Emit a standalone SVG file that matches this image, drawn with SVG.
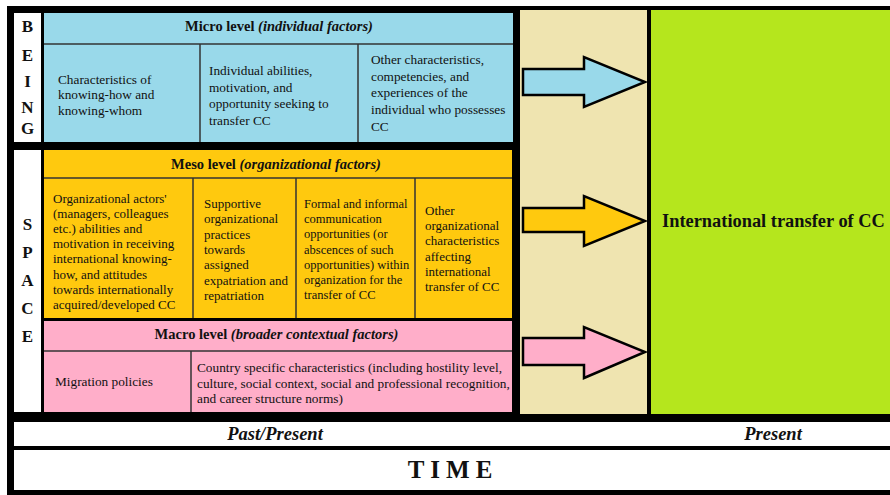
<svg xmlns="http://www.w3.org/2000/svg" width="890" height="495" viewBox="0 0 890 495">
<style>
text{font-family:"Liberation Serif","Times New Roman",serif;fill:#111}
.c{font-size:13.3px}
.m{font-size:13px}
.s{font-size:12.5px}
.h{font-size:14.5px;font-weight:bold;text-anchor:middle}
.l{font-size:17px;font-weight:bold;text-anchor:middle}
.div{stroke:#333;stroke-width:1.5}
.arr{stroke:#000;stroke-width:2.5;stroke-linejoin:miter}
</style>
<rect x="0" y="0" width="890" height="495" fill="#fff"/>
<rect x="7" y="6" width="883" height="489" fill="#000"/>

<g id="being">
<rect x="14" y="13" width="27" height="129" fill="#fff"/>
<text class="l" x="27.5" y="32">B</text>
<text class="l" x="27.5" y="61">E</text>
<text class="l" x="27.5" y="87">I</text>
<text class="l" x="27.5" y="113">N</text>
<text class="l" x="27.5" y="134">G</text>
</g>

<g id="space">
<rect x="14" y="150" width="27" height="262" fill="#fff"/>
<text class="l" x="27.5" y="230">S</text>
<text class="l" x="27.5" y="258">P</text>
<text class="l" x="27.5" y="286">A</text>
<text class="l" x="27.5" y="314">C</text>
<text class="l" x="27.5" y="342">E</text>
</g>

<g id="micro">
<rect x="44" y="13" width="469" height="129" fill="#99d9ea"/>
<line class="div" x1="44" y1="44" x2="513" y2="44"/>
<line class="div" x1="200" y1="44" x2="200" y2="142"/>
<line class="div" x1="358" y1="44" x2="358" y2="142"/>
<text class="h" x="279" y="31">Micro level <tspan font-style="italic">(individual factors)</tspan></text>
<text class="c" x="58" y="84">Characteristics of<tspan x="58" dy="15.3">knowing-how and</tspan><tspan x="58" dy="15.3">knowing-whom</tspan></text>
<text class="c" x="209" y="75">Individual abilities,<tspan x="209" dy="16.7">motivation, and</tspan><tspan x="209" dy="16.7">opportunity seeking to</tspan><tspan x="209" dy="16.7">transfer CC</tspan></text>
<text class="c" x="371" y="64">Other characteristics,<tspan x="371" dy="16.7">competencies, and</tspan><tspan x="371" dy="16.7">experiences of the</tspan><tspan x="371" dy="16.7">individual who possesses</tspan><tspan x="371" dy="16.7">CC</tspan></text>
</g>

<g id="meso">
<rect x="44" y="150" width="468" height="168" fill="#ffc90e"/>
<line class="div" x1="44" y1="178" x2="512" y2="178"/>
<line class="div" x1="193" y1="178" x2="193" y2="318"/>
<line class="div" x1="296" y1="178" x2="296" y2="318"/>
<line class="div" x1="415" y1="178" x2="415" y2="318"/>
<text class="h" x="276" y="169">Meso level <tspan font-style="italic">(organizational factors)</tspan></text>
<text class="m" x="53" y="203">Organizational actors'<tspan x="53" dy="15.1">(managers, colleagues</tspan><tspan x="53" dy="15.1">etc.) abilities and</tspan><tspan x="53" dy="15.1">motivation in receiving</tspan><tspan x="53" dy="15.1">international knowing-</tspan><tspan x="53" dy="15.1">how, and attitudes</tspan><tspan x="53" dy="15.1">towards internationally</tspan><tspan x="53" dy="15.1">acquired/developed CC</tspan></text>
<text class="m" x="204" y="208">Supportive<tspan x="204" dy="15.3">organizational</tspan><tspan x="204" dy="15.3">practices</tspan><tspan x="204" dy="15.3">towards</tspan><tspan x="204" dy="15.3">assigned</tspan><tspan x="204" dy="15.3">expatriation and</tspan><tspan x="204" dy="15.3">repatriation</tspan></text>
<text class="s" x="304" y="208">Formal and informal<tspan x="304" dy="15.2">communication</tspan><tspan x="304" dy="15.2">opportunities (or</tspan><tspan x="304" dy="15.2">abscences of such</tspan><tspan x="304" dy="15.2">opportunities) within</tspan><tspan x="304" dy="15.2">organization for the</tspan><tspan x="304" dy="15.2">transfer of CC</tspan></text>
<text class="m" x="425" y="215">Other<tspan x="425" dy="15.2">organizational</tspan><tspan x="425" dy="15.2">characteristics</tspan><tspan x="425" dy="15.2">affecting</tspan><tspan x="425" dy="15.2">international</tspan><tspan x="425" dy="15.2">transfer of CC</tspan></text>
</g>

<g id="macro">
<rect x="44" y="321" width="468" height="91" fill="#ffaec9"/>
<line class="div" x1="44" y1="351" x2="512" y2="351"/>
<line class="div" x1="191" y1="351" x2="191" y2="412"/>
<text class="h" x="276.5" y="339">Macro level <tspan font-style="italic">(broader contextual factors)</tspan></text>
<text class="c" x="55" y="386">Migration policies</text>
<text class="c" x="197" y="372">Country specific characteristics (including hostility level,<tspan x="197" dy="15.5">culture, social context, social and professional recognition,</tspan><tspan x="197" dy="15.5">and career structure norms)</tspan></text>
</g>

<g id="transition">
<rect x="520" y="10" width="127" height="404" fill="#efe4b0"/>
</g>

<g id="outcome">
<rect x="651" y="10" width="239" height="404" fill="#b5e61d"/>
<text x="662" y="227" font-size="18.4px" font-weight="bold">International transfer of CC</text>
</g>

<g id="timeline">
<rect x="14" y="422" width="876" height="24" fill="#fff"/>
<text x="275" y="440" font-size="18.5px" font-weight="bold" font-style="italic" text-anchor="middle">Past/Present</text>
<text x="773" y="440" font-size="18.5px" font-weight="bold" font-style="italic" text-anchor="middle">Present</text>
</g>

<g id="time">
<rect x="14" y="450" width="876" height="40" fill="#fff"/>
<text x="453" y="478" font-size="25px" font-weight="bold" text-anchor="middle" letter-spacing="6">TIME</text>
</g>

<g id="connectors">
<polygon class="arr" fill="#99d9ea" points="523,69 584,69 584,57 645,82 584,107 584,95 523,95"/>
<polygon class="arr" fill="#ffc90e" points="523,208 584,208 584,196 645,221 584,246 584,232 523,232"/>
<polygon class="arr" fill="#ffaec9" points="523,338 584,338 584,327 645,352 584,378 584,365 523,365"/>
</g>
</svg>
